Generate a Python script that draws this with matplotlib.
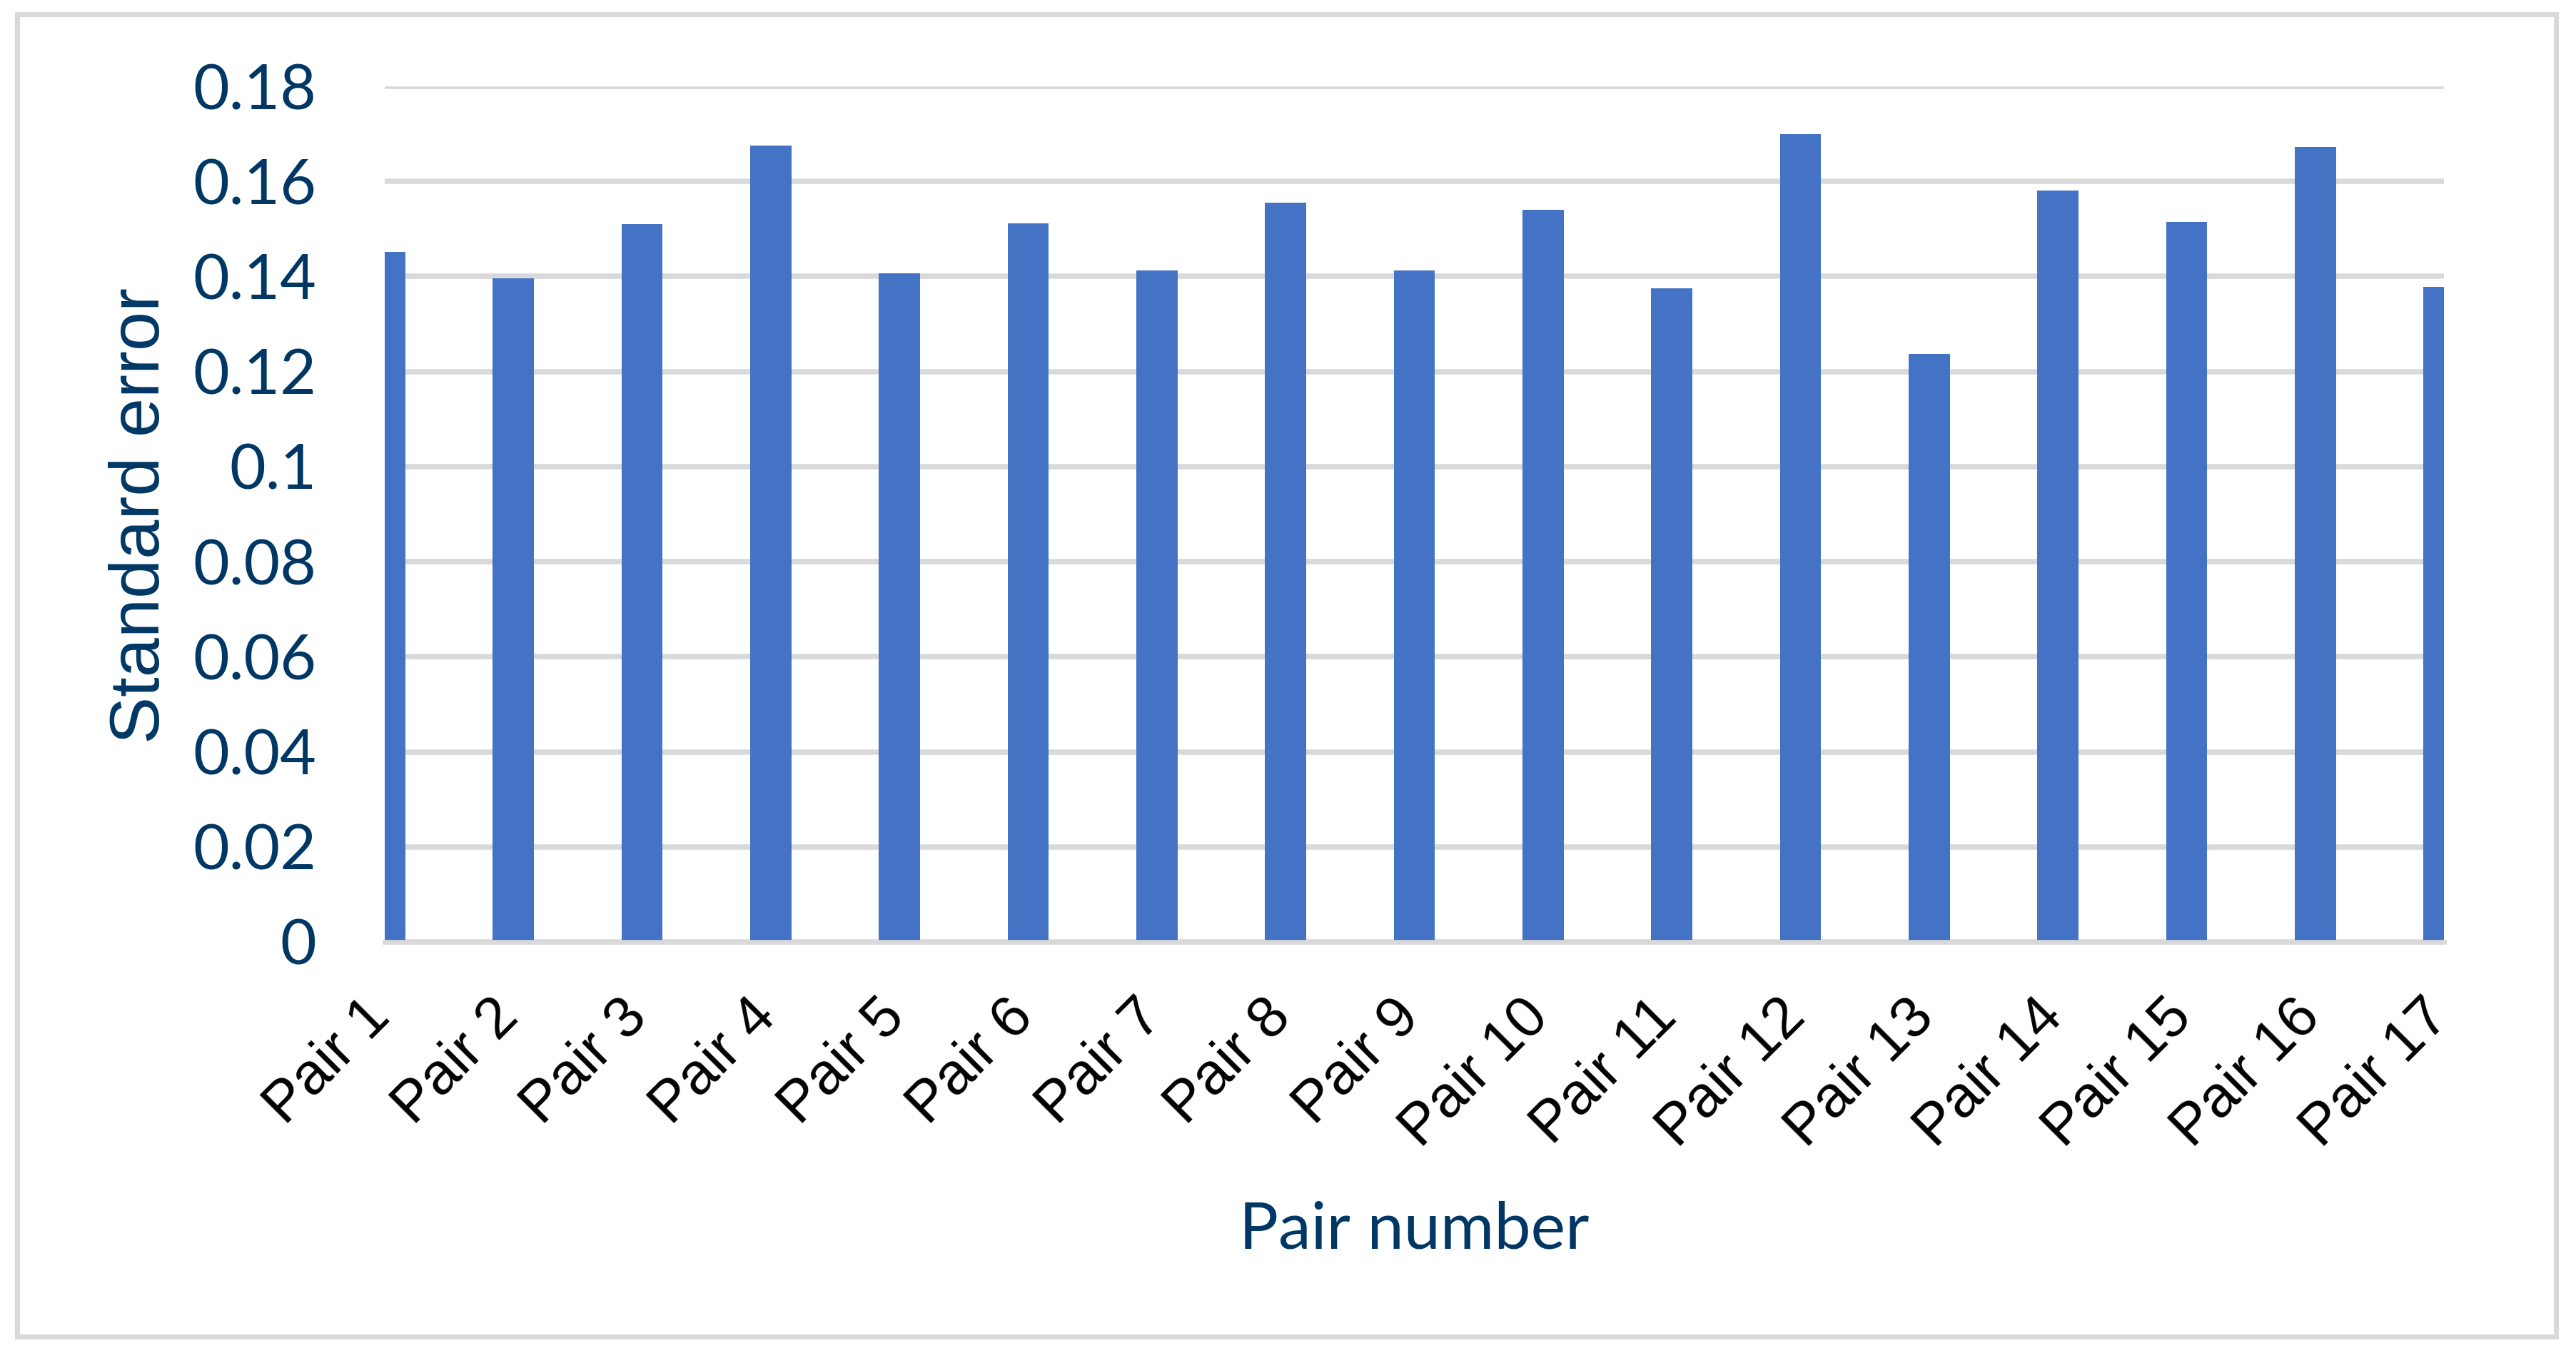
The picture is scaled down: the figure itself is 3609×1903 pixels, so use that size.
import matplotlib
matplotlib.use('Agg')
import matplotlib.pyplot as plt
import matplotlib.transforms as mtransforms
from matplotlib.patches import Rectangle

# data
pairs = ["Pair %d" % i for i in range(1, 18)]
std_error = [0.1452, 0.1396, 0.1511, 0.1676, 0.1406, 0.1512, 0.1412, 0.1556, 0.1412,
             0.1541, 0.1375, 0.1699, 0.1237, 0.1581, 0.1515, 0.1673, 0.1378]
yticks = [0, 0.02, 0.04, 0.06, 0.08, 0.1, 0.12, 0.14, 0.16, 0.18]
ytick_labels = ["0", "0.02", "0.04", "0.06", "0.08", "0.1", "0.12", "0.14", "0.16", "0.18"]

W, H = 3609, 1903
DPI = 300
navy = "#003764"
grid_grey = "#D9D9D9"

fig = plt.figure(figsize=(W / DPI, H / DPI), dpi=DPI)
fig.patch.set_facecolor("white")

# plot area in pixels: left 539, right 3424, top (0.18) 121, bottom (0) 1320
ax = fig.add_axes([539 / W, 1 - 1320 / H, (3424 - 539) / W, (1320 - 121) / H])

x = list(range(len(pairs)))
ax.bar(x, std_error, width=0.32, color="#4472C4", zorder=3)

ax.set_xlim(0, len(pairs) - 1)
ax.set_ylim(0, 0.18)

ax.set_yticks(yticks)
ax.set_yticklabels(ytick_labels, fontfamily="Lato", fontsize=21, color=navy)
ax.set_xticks(x)
ax.set_xticklabels(pairs, fontfamily="Liberation Sans", fontsize=19.5, color="black",
                   rotation=45, ha="right", va="top")
ax.tick_params(axis="y", length=0, pad=23)
ax.tick_params(axis="x", length=0, pad=16)

# nudge the slanted labels a little to the right, like Excel does
shift = mtransforms.ScaledTranslation(22 / DPI, 0, fig.dpi_scale_trans)
for lab in ax.get_xticklabels():
    lab.set_transform(lab.get_transform() + shift)

ax.set_axisbelow(True)
ax.yaxis.grid(True, color=grid_grey, linewidth=1.8)
ax.xaxis.grid(False)
for side in ["top", "right", "left"]:
    ax.spines[side].set_visible(False)
ax.spines["bottom"].set_color(grid_grey)
ax.spines["bottom"].set_linewidth(1.6)
ax.spines["bottom"].set_zorder(4)

# axis titles
fig.text(223 / W, 1 - 722 / H, "Standard error", rotation=90, rotation_mode="anchor",
         ha="center", va="baseline", fontfamily="Liberation Sans", fontsize=23.8, color=navy)
fig.text(1981 / W, 1 - 1749 / H, "Pair number", ha="center", va="baseline",
         fontfamily="Lato", fontsize=22, color=navy)

# chart frame
fig.patches.append(Rectangle((24 / W, 1 - 1873 / H), (3581 - 24) / W, (1873 - 20) / H,
                             transform=fig.transFigure, fill=False,
                             edgecolor=grid_grey, linewidth=1.7))

fig.savefig("out.png", dpi=DPI, facecolor="white")
